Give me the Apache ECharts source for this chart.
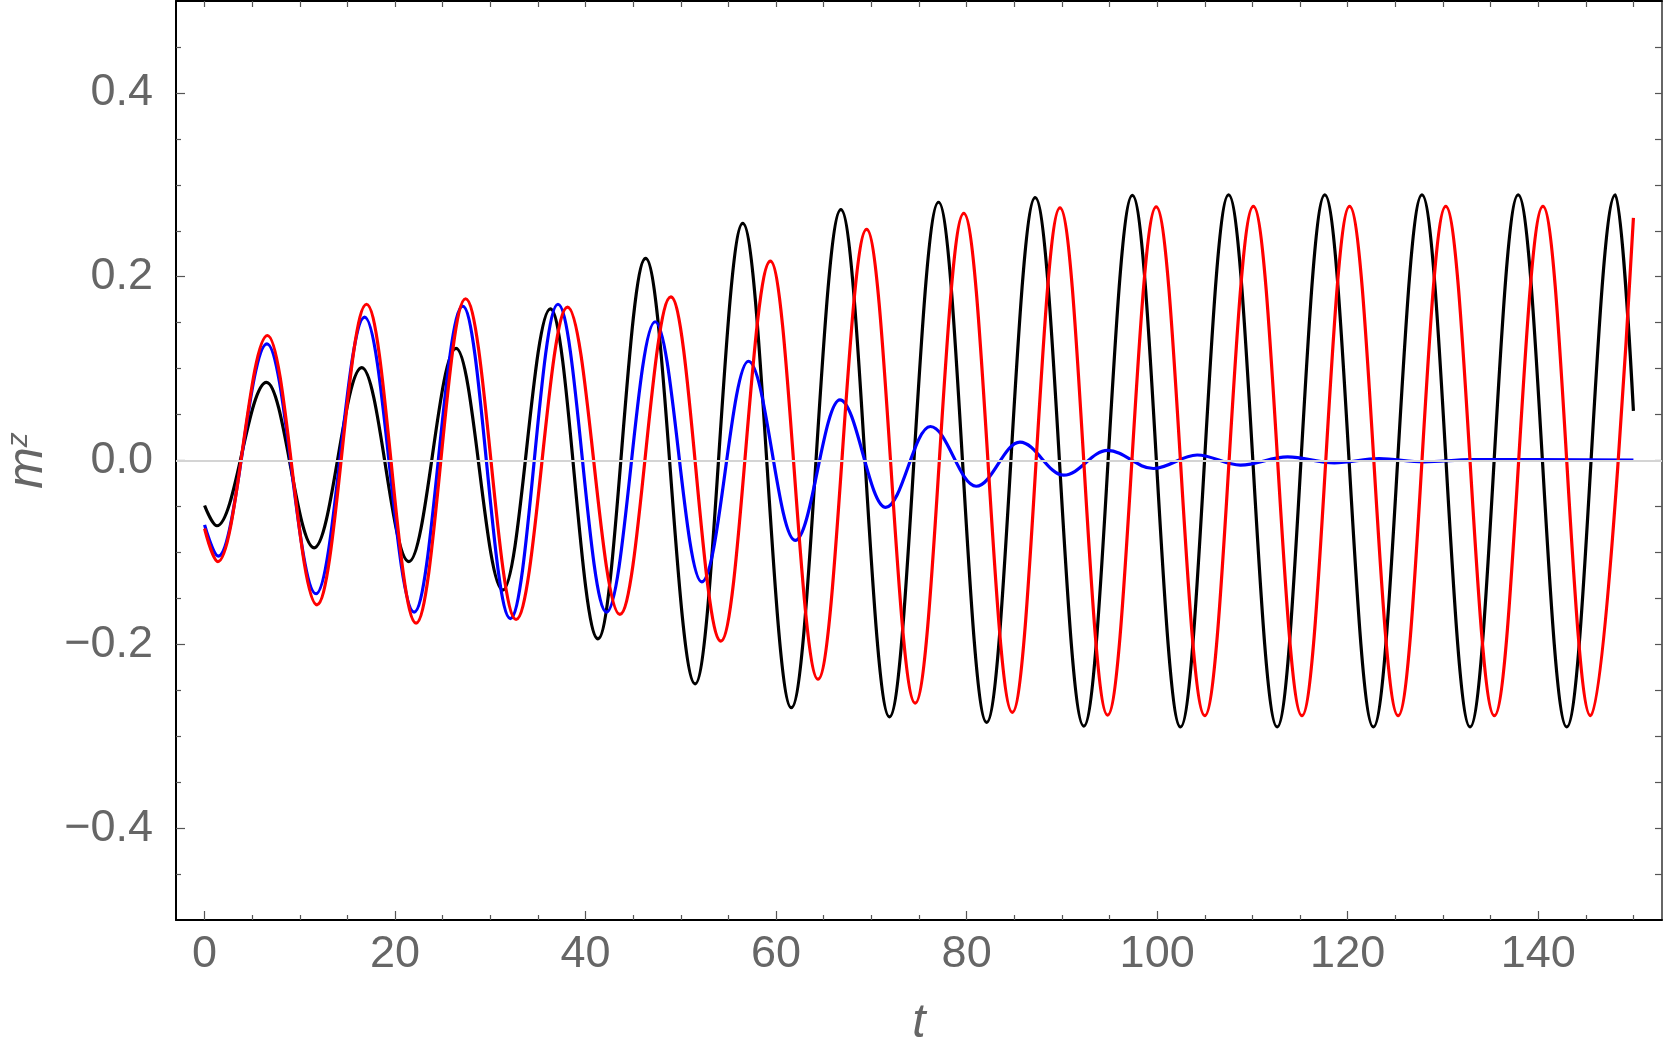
<!DOCTYPE html>
<html>
<head>
    <meta charset="utf-8">
    <title>m^z over t</title>
    <script src="https://cdn.jsdelivr.net/npm/echarts@6/dist/echarts.min.js"></script>
    <style>html, body { margin: 0; padding: 0; background: #fff; }</style>
</head>
<body>
    <div id="main" style="width: 1667px;height:1057px;"></div>
    <script type="text/javascript">
    var myChart = echarts.init(document.getElementById('main'));

    // turning points, [t, m^z]
    var blackPts = [[0,-0.049],[1.3,-0.071],[6.5,0.085],[11.5,-0.095],[16.5,0.101],[21.45,-0.110],[26.4,0.122],
        [31.3,-0.141],[36.3,0.165],[41.3,-0.194],[46.3,0.220],[51.5,-0.243],[56.5,0.258],[61.6,-0.269],
        [66.8,0.273],[71.9,-0.279],[77.05,0.281],[82.1,-0.285],[87.2,0.286],[92.3,-0.289],[97.4,0.2885],
        [102.45,-0.290],[107.5,0.289],[112.6,-0.290],[117.6,0.289],[122.7,-0.290],[127.8,0.289],
        [132.85,-0.290],[137.9,0.289],[143.0,-0.290],[148.1,0.289],[150,0.054]];
    var bluePts = [[0,-0.070],[1.45,-0.104],[6.55,0.127],[11.7,-0.145],[16.8,0.156],[22.0,-0.165],[27.1,0.168],
        [32.1,-0.172],[37.1,0.170],[42.2,-0.165],[47.3,0.151],[52.2,-0.132],[57.1,0.108],[62.0,-0.087],
        [66.7,0.066],[71.5,-0.051],[76.2,0.037],[81.0,-0.028],[85.6,0.020],[90.2,-0.016],[94.8,0.011],
        [99.6,-0.0087],[104.2,0.006],[108.75,-0.005],[113.7,0.004],[118.6,-0.0026],[123.3,0.002],
        [128,-0.0015],[133,0.001],[150,0.0005]];
    var redPts = [[0,-0.074],[1.4,-0.110],[6.6,0.136],[11.8,-0.157],[17.0,0.170],[22.2,-0.177],[27.4,0.176],
        [32.7,-0.173],[38.1,0.167],[43.6,-0.1675],[48.95,0.178],[54.2,-0.1965],[59.4,0.217],[64.4,-0.238],
        [69.5,0.2515],[74.6,-0.264],[79.7,0.269],[84.8,-0.274],[89.8,0.275],[94.8,-0.277],[99.9,0.276],
        [105.0,-0.2777],[110.1,0.2765],[115.2,-0.2777],[120.2,0.2765],[125.3,-0.2777],[130.3,0.2765],
        [135.4,-0.2777],[140.5,0.2765],[145.5,-0.2777],[150,0.264]];

    var xMajor = [0, 20, 40, 60, 80, 100, 120, 140];
    var xMinor = [5, 10, 15, 25, 30, 35, 45, 50, 55, 65, 70, 75, 85, 90, 95, 105, 110, 115, 125, 130, 135, 145, 150];
    var yMajor = [-0.4, -0.2, 0, 0.2, 0.4];
    var yMinor = [-0.45, -0.35, -0.3, -0.25, -0.15, -0.1, -0.05, 0.05, 0.1, 0.15, 0.25, 0.3, 0.35, 0.45];

    var font = 'Liberation Sans';
    var grey = '#666666';
    var tickLine = { color: '#555555', width: 1.2 };

    function frameAxis(extra) {
        var a = {
            type: 'value',
            axisLine: { show: false, onZero: false },
            axisTick: { show: true, inside: true, lineStyle: tickLine },
            axisLabel: { show: false },
            splitLine: { show: false }
        };
        for (var k in extra) a[k] = extra[k];
        return a;
    }

    option = {
        animation: false,
        backgroundColor: '#ffffff',
        grid: { left: 176, right: 5, top: 1, bottom: 137, containLabel: false, outerBoundsMode: 'none' },
        xAxis: [
            frameAxis({
                min: -3, max: 153, position: 'bottom',
                axisLine: { show: true, onZero: false, lineStyle: { color: '#000', width: 2 } },
                axisTick: { show: true, inside: true, length: 9, customValues: xMajor, lineStyle: tickLine },
                axisLabel: { show: true, customValues: xMajor, fontSize: 45, fontFamily: font, color: grey, margin: 12 },
                name: 't', nameLocation: 'middle', nameGap: 80,
                nameTextStyle: { fontSize: 48, fontStyle: 'italic', fontFamily: font, color: grey }
            }),
            frameAxis({
                min: -3, max: 153, position: 'bottom',
                axisTick: { show: true, inside: true, length: 5, customValues: xMinor, lineStyle: tickLine }
            }),
            frameAxis({
                min: -3, max: 153, position: 'top',
                axisLine: { show: true, onZero: false, lineStyle: { color: '#000', width: 2 } },
                axisTick: { show: true, inside: true, length: 6, customValues: xMajor.concat(xMinor), lineStyle: tickLine }
            })
        ],
        yAxis: [
            frameAxis({
                min: -0.5, max: 0.5, position: 'left',
                axisLine: { show: true, onZero: false, lineStyle: { color: '#000', width: 2 } },
                axisTick: { show: true, inside: true, length: 9, customValues: yMajor, lineStyle: tickLine },
                axisLabel: {
                    show: true, customValues: yMajor, fontSize: 45, fontFamily: font, color: grey, margin: 23,
                    formatter: function (v) { return (v < 0 ? '\u2212' : '') + Math.abs(v).toFixed(1); }
                },
                name: '{m|m}{z|z}', nameLocation: 'middle', nameRotate: 90, nameGap: 118,
                nameTextStyle: {
                    color: grey,
                    rich: {
                        m: { fontSize: 50, fontStyle: 'italic', fontFamily: font, color: grey },
                        z: { fontSize: 30, fontStyle: 'italic', fontFamily: font, color: grey, verticalAlign: 'top' }
                    }
                }
            }),
            frameAxis({
                min: -0.5, max: 0.5, position: 'left',
                axisTick: { show: true, inside: true, length: 5, customValues: yMinor, lineStyle: tickLine }
            }),
            frameAxis({
                min: -0.5, max: 0.5, position: 'right',
                axisLine: { show: true, onZero: false, lineStyle: { color: '#333', width: 1.5 } },
                axisTick: { show: true, inside: true, length: 7, customValues: yMajor.concat(yMinor), lineStyle: tickLine }
            })
        ],
        series: [
            {
                type: 'line', data: [], z: 1, silent: true,
                markLine: {
                    silent: true, symbol: ['none', 'none'], label: { show: false },
                    lineStyle: { color: '#d4d4d4', width: 1.8, type: 'solid' },
                    data: [{ yAxis: 0 }]
                }
            }
        ]
    };

    var curves = [['#000000', blackPts], ['#0000ff', bluePts], ['#ff0000', redPts]];
    echarts.util.each(curves, function (c, idx) {
        option.series.push({
            type: 'line',
            data: c[1],
            z: 2 + idx,
            showSymbol: false,
            smooth: 0.36,
            smoothMonotone: 'x',
            lineStyle: { color: c[0], width: 3.2 }
        });
    });

    myChart.setOption(option);
    </script>
</body>
</html>
